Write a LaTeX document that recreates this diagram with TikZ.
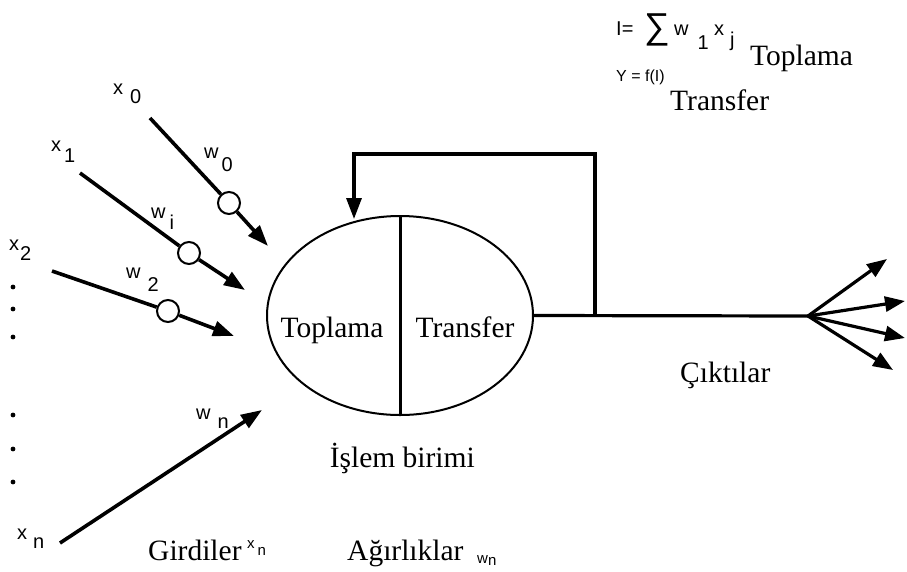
\documentclass[tikz,border=0pt]{standalone}
\usepackage{fontspec}
\setmainfont{Liberation Serif}
\newfontfamily\lblfont{Liberation Sans}
\usetikzlibrary{arrows.meta,shapes.geometric}

% symbol with a spaced, lowered index: base, gap, drop, index
\newcommand{\idxlab}[4]{#1\hspace{#2}\raisebox{-#3}{#4}}

\begin{document}
\begin{tikzpicture}[x=1pt,y=-1pt,
  bigtext/.style={font=\fontsize{29.5}{32}\selectfont, inner sep=0},
  smalltext/.style={font=\lblfont\fontsize{20}{22}\selectfont, inner sep=0},
  tinytext/.style={font=\lblfont\fontsize{15}{17}\selectfont, inner sep=0},
  weight/.style={circle, draw, line width=2pt, minimum size=22pt, inner sep=0, fill=white},
  inwire/.style={line width=3.6pt},
  inarrow/.style={line width=3.6pt, -{Triangle[length=21pt,width=15pt]}},
  wire/.style={line width=3.2pt},
  outarrow/.style={line width=3.2pt, -{Triangle[length=20pt,width=15pt]}}
]
\useasboundingbox (0,0) rectangle (907,571);

% processing unit
\node[ellipse, draw, line width=2pt, minimum width=266pt, minimum height=199pt] (cell) at (400,315.5) {};
\draw[line width=3pt] (cell.north) -- (cell.south);
\node[bigtext, anchor=base] (sum) at (332,337) {Toplama};
\node[bigtext, anchor=base] (act) at (465,337) {Transfer};
\node[bigtext, anchor=base east] (unit) at (475,467) {İşlem birimi};

% inputs and weights
\coordinate (s0) at (150,118);  \coordinate (t0) at (268,246);
\coordinate (s1) at (80,173);   \coordinate (t1) at (245,290);
\coordinate (s2) at (52,271);   \coordinate (t2) at (234,336);
\coordinate (sn) at (60,543);   \coordinate (tn) at (262,410);
\node[weight] (c0) at (229,203) {};
\node[weight] (c1) at (189,253) {};
\node[weight] (c2) at (168,311) {};

\draw[inwire] (s0) -- (c0);  \draw[inarrow] (c0) -- (t0);
\draw[inwire] (s1) -- (c1);  \draw[inarrow] (c1) -- (t1);
\draw[inwire] (s2) -- (c2);  \draw[inarrow] (c2) -- (t2);
\draw[inarrow] (sn) -- (tn);

\node[smalltext, anchor=base west] (x0) at (113,94)  {\idxlab{x}{7pt}{9pt}{0}};
\node[smalltext, anchor=base west] (x1) at (51,151)  {\idxlab{x}{3pt}{11pt}{1}};
\node[smalltext, anchor=base west] (x2) at (9,250)   {\idxlab{x}{1pt}{10pt}{2}};
\node[smalltext, anchor=base west] (xn) at (17,539)  {\idxlab{x}{6pt}{9pt}{n}};
\node[smalltext, anchor=base west] (w0) at (204,158) {\idxlab{w}{3pt}{13pt}{0}};
\node[smalltext, anchor=base west] (wi) at (151,218) {\idxlab{w}{4pt}{11pt}{i}};
\node[smalltext, anchor=base west] (w2) at (126,278) {\idxlab{w}{7pt}{13pt}{2}};
\node[smalltext, anchor=base west] (wn) at (196,419) {\idxlab{w}{7pt}{9pt}{n}};

% elided inputs
\foreach \y [count=\i] in {287,309,337,415,449,482}
  \fill (13,\y) circle (2.4pt);

% feedback loop and outputs
\coordinate (fb) at (595,315);
\coordinate (fbtop) at (595,154);
\coordinate (fbleft) at (354,154);
\coordinate (fbend) at (354,219);
\coordinate (fan) at (808,316);
\draw[wire] (cell.east) -- (fan);
\draw[wire, -{Triangle[length=21pt,width=15pt]}] (fb) -- (fbtop) -- (fbleft) -- (fbend);
\coordinate (o1) at (887,259);
\coordinate (o2) at (905,301);
\coordinate (o3) at (905,338);
\coordinate (o4) at (893,370);
\foreach \o in {o1,o2,o3,o4}
  \draw[outarrow] (fan) -- (\o);
\node[bigtext, anchor=base west] (outs) at (680,382) {Çıktılar};

% bottom captions
\node[bigtext, anchor=base west] (inl) at (148,560) {Girdiler};
\node[tinytext, anchor=base west] (inx) at (247,548) {\idxlab{x}{3pt}{7pt}{n}};
\node[bigtext, anchor=base west] (wl) at (347,560) {Ağırlıklar};
\node[tinytext, anchor=base west] (inw) at (477,563) {w\raisebox{-2pt}{n}};

% formulas
\node[smalltext, anchor=base west] (feq) at (616,35) {I=};
\node[font=\lblfont\fontsize{36}{38}\selectfont, inner sep=0, anchor=base west] (sig) at (644,38) {∑};
\node[smalltext, anchor=base west] (fw) at (674,35) {\idxlab{w}{9pt}{14pt}{1}};
\node[smalltext, anchor=base west] (fx) at (714,35) {\idxlab{x}{6pt}{11pt}{j}};
\node[font=\lblfont\fontsize{16}{18}\selectfont, inner sep=0, anchor=base west] (yeq) at (616,81) {Y = f(I)};
\node[bigtext, anchor=base west] (top1) at (750,65) {Toplama};
\node[bigtext, anchor=base west] (top2) at (670,110) {Transfer};
\end{tikzpicture}
\end{document}
